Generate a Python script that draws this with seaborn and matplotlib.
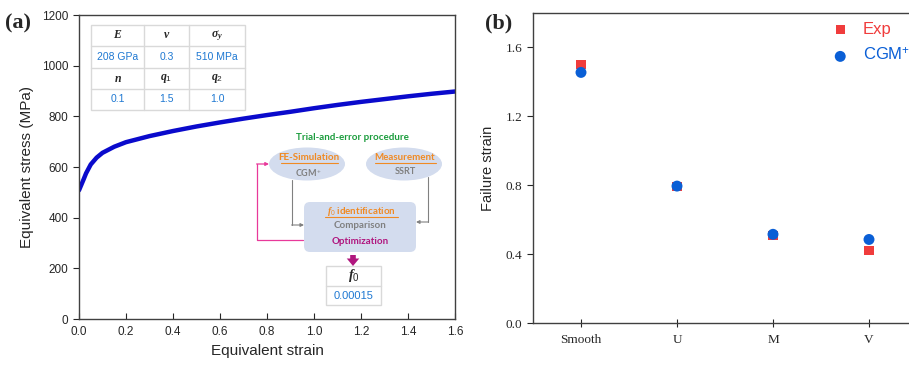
import pandas as pd
import matplotlib.pyplot as plt
import seaborn as sns
from matplotlib.patches import Ellipse, FancyBboxPatch, Rectangle

# (a) flow curve
strain = [0, 0.01, 0.02, 0.03, 0.05, 0.075, 0.1, 0.15, 0.2, 0.3, 0.4, 0.5,
          0.6, 0.7, 0.8, 0.9, 1.0, 1.1, 1.2, 1.3, 1.4, 1.5, 1.6]
stress = [508, 530, 552, 575, 610, 637, 656, 680, 698, 722, 742, 760,
          776, 791, 805, 818, 832, 845, 857, 868, 879, 889, 898]

# (b) failure strain per specimen
specimens = ['Smooth', 'U', 'M', 'V']
exp_strain = [1.50, 0.79, 0.51, 0.42]
cgm_strain = [1.455, 0.795, 0.515, 0.485]

# material parameter table
param_names = ['$E$', r'$\nu$', r'$\sigma_y$', '$n$', '$q_1$', '$q_2$']
param_values = ['208 GPa', '0.3', '510 MPa', '0.1', '1.5', '1.0']

sns.set_style('ticks')
plt.rcParams['font.family'] = ['Liberation Sans', 'DejaVu Sans']
plt.rcParams['axes.edgecolor'] = '#404040'
plt.rcParams['mathtext.fontset'] = 'custom'
plt.rcParams['mathtext.rm'] = 'Liberation Sans'
plt.rcParams['mathtext.it'] = 'Liberation Serif:italic:bold'
plt.rcParams['mathtext.bf'] = 'Liberation Serif:italic:bold'

fig = plt.figure(figsize=(9.09, 3.67), dpi=100)
ax1 = fig.add_axes([79 / 909, 48 / 367, 376 / 909, 304 / 367])
ax2 = fig.add_axes([533 / 909, 44 / 367, 384 / 909, 310 / 367])

# ---- panel (a)
df_a = pd.DataFrame({'strain': strain, 'stress': stress})
sns.lineplot(data=df_a, x='strain', y='stress', ax=ax1, color='#0a0acc', linewidth=3.2)
ax1.set_xlim(0, 1.6)
ax1.set_ylim(0, 1200)
ax1.set_xticks([0, 0.2, 0.4, 0.6, 0.8, 1.0, 1.2, 1.4, 1.6])
ax1.set_yticks(range(0, 1201, 200))
ax1.xaxis.set_major_formatter(plt.FormatStrFormatter('%.1f'))
ax1.tick_params(axis='x', direction='in', labelsize=8.5, length=4, pad=5)
ax1.tick_params(axis='y', direction='out', labelsize=8.5, length=4)
ax1.set_xlabel('Equivalent strain', fontsize=11)
ax1.set_ylabel('Equivalent stress (MPa)', fontsize=11, labelpad=6)
for s in ax1.spines.values():
    s.set_visible(True)
    s.set_linewidth(1)

# ---- panel (b)
df_exp = pd.DataFrame({'specimen': specimens, 'strain': exp_strain})
df_cgm = pd.DataFrame({'specimen': specimens, 'strain': cgm_strain})
sns.scatterplot(data=df_exp, x='specimen', y='strain', ax=ax2, marker='s', s=42,
                color='#f03c3c', edgecolor='none', label='Exp', zorder=3)
sns.scatterplot(data=df_cgm, x='specimen', y='strain', ax=ax2, marker='o', s=62,
                color='#0a5fd6', edgecolor='none', label='CGM$^{+}$', zorder=4)
ax2.set_xlim(-0.5, 3.5)
ax2.set_ylim(0, 1.8)
ax2.set_yticks([0.0, 0.4, 0.8, 1.2, 1.6])
ax2.yaxis.set_major_formatter(plt.FormatStrFormatter('%.1f'))
ax2.set_xlabel('')
ax2.set_ylabel('Failure strain', fontsize=10.5, labelpad=8)
ax2.tick_params(axis='x', direction='inout', length=6, pad=5)
ax2.tick_params(axis='y', direction='out', length=4)
for lab in ax2.get_xticklabels() + ax2.get_yticklabels():
    lab.set_fontfamily('Liberation Serif')
    lab.set_fontsize(9.5)
for s in ax2.spines.values():
    s.set_visible(True)
    s.set_linewidth(1)
ax2.legend(loc='upper right', bbox_to_anchor=(1.012, 1.01), frameon=False, fontsize=12,
           labelcolor=['#f03c3c', '#0a5fd6'], handletextpad=0.35, borderaxespad=0.3,
           labelspacing=0.6)

# ---- panel labels
fig.text(5 / 909, 1 - 28 / 367, '(a)', fontsize=16, fontweight='bold', family='Liberation Serif')
fig.text(485 / 909, 1 - 28 / 367, '(b)', fontsize=16, fontweight='bold', family='Liberation Serif')

# ---- overlay in pixel units for the inset table and flowchart
ov = fig.add_axes([0, 0, 1, 1], zorder=5)
ov.set_xlim(0, 909)
ov.set_ylim(367, 0)
ov.axis('off')
ov.patch.set_alpha(0)

blue_txt = '#1e78d2'
grid_c = '#d9d9d9'
xe = [91, 144, 189, 245]
ye = [25, 46, 68, 89, 110]
ov.add_patch(Rectangle((xe[0], ye[0]), xe[-1] - xe[0], ye[-1] - ye[0], facecolor='white',
                       edgecolor=grid_c, lw=1))
for x in xe[1:-1]:
    ov.plot([x, x], [ye[0], ye[-1]], color=grid_c, lw=1)
for y in ye[1:-1]:
    ov.plot([xe[0], xe[-1]], [y, y], color=grid_c, lw=1)
for r in range(4):
    for c in range(3):
        cx = (xe[c] + xe[c + 1]) / 2
        cy = (ye[r] + ye[r + 1]) / 2
        k = (r // 2) * 3 + c
        if r % 2 == 0:
            ov.text(cx, cy, param_names[k], ha='center', va='center', fontsize=8.5)
        else:
            ov.text(cx, cy, param_values[k], ha='center', va='center', fontsize=7.5,
                    color=blue_txt)

flow_font = ['Lato', 'DejaVu Sans']
orange = '#f08a24'
gray = '#808080'
lav = '#d3dcee'
magenta = '#b0167e'
pink = '#e8399a'

ov.text(352, 137, 'Trial-and-error procedure', ha='center', va='center', fontsize=7,
        color='#1a9c3c', fontweight='bold', family=flow_font)

ov.add_patch(Ellipse((307, 164), 76, 33, facecolor=lav, edgecolor='none'))
ov.add_patch(Ellipse((404, 164), 76, 33, facecolor=lav, edgecolor='none'))
ov.text(309, 158, 'FE-Simulation', ha='center', va='center', fontsize=7, color=orange,
        fontweight='bold', family=flow_font)
ov.plot([281, 338], [163, 163], color=orange, lw=0.8)
ov.text(308, 172, 'CGM$^{+}$', ha='center', va='center', fontsize=6.5, color=gray,
        fontweight='bold', family=flow_font)
ov.text(405, 158, 'Measurement', ha='center', va='center', fontsize=7, color=orange,
        fontweight='bold', family=flow_font)
ov.plot([375, 436], [163, 163], color=orange, lw=0.8)
ov.text(405, 171, 'SSRT', ha='center', va='center', fontsize=6.5, color=gray,
        fontweight='bold', family=flow_font)

ov.add_patch(FancyBboxPatch((307, 205), 106, 44, boxstyle='round,pad=3,rounding_size=6',
                            facecolor=lav, edgecolor='none'))
ov.text(361, 211, '$f_0$ identification', ha='center', va='center',
        fontsize=7, color=orange, fontweight='bold', family=flow_font)
ov.plot([325, 398], [216.5, 216.5], color=orange, lw=0.8)
ov.text(360, 225, 'Comparison', ha='center', va='center', fontsize=7, color=gray,
        fontweight='bold', family=flow_font)
ov.text(360, 241, 'Optimization', ha='center', va='center', fontsize=7, color=magenta,
        fontweight='bold', family=flow_font)

# connector lines
ov.plot([292, 292], [180, 225], color=gray, lw=0.8)
ov.annotate('', xy=(304, 225), xytext=(291.6, 225),
            arrowprops=dict(arrowstyle='-|>', color=gray, lw=0.8, mutation_scale=5,
                            shrinkA=0, shrinkB=0))
ov.plot([428, 428], [177, 222], color=gray, lw=0.8)
ov.annotate('', xy=(416, 222), xytext=(428.4, 222),
            arrowprops=dict(arrowstyle='-|>', color=gray, lw=0.8, mutation_scale=5,
                            shrinkA=0, shrinkB=0))
ov.plot([303, 257, 257], [240, 240, 164], color=pink, lw=0.9)
ov.annotate('', xy=(269, 164), xytext=(256.6, 164),
            arrowprops=dict(arrowstyle='-|>', color=pink, lw=0.9, mutation_scale=5,
                            shrinkA=0, shrinkB=0))
ov.annotate('', xy=(353, 266), xytext=(353, 255),
            arrowprops=dict(arrowstyle='simple,head_width=1.0,head_length=0.6,tail_width=0.45',
                            color=magenta, lw=0, mutation_scale=9, shrinkA=0, shrinkB=0))

# f0 result box
ov.add_patch(Rectangle((326, 266), 55, 39, facecolor='white', edgecolor=grid_c, lw=1))
ov.plot([326, 381], [286, 286], color=grid_c, lw=1)
ov.text(353.5, 276, '$f_0$', ha='center', va='center', fontsize=10)
ov.text(353.5, 296, '0.00015', ha='center', va='center', fontsize=8, color=blue_txt)

fig.savefig('out.png', dpi=100)
